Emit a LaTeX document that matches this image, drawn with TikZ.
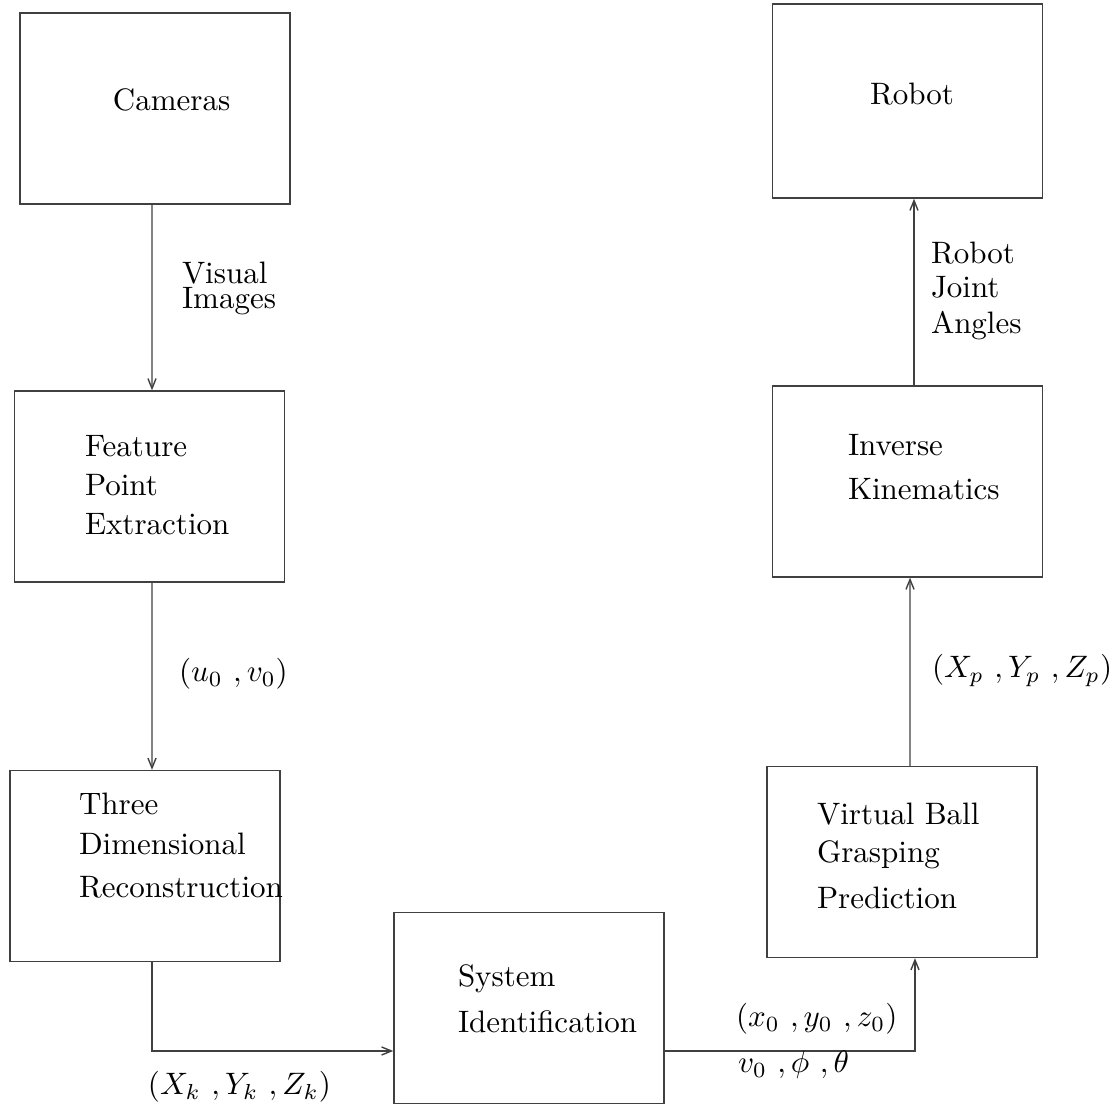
\documentclass[tikz,border=0pt]{standalone}
\usetikzlibrary{arrows.meta}
\begin{document}
\begin{tikzpicture}[x=0.3226pt,y=-0.3226pt,
  blk/.style={draw=black!75,line width=0.45pt,rectangle,minimum width=87.1pt,minimum height=61.6pt,inner sep=0pt},
  txt/.style={anchor=base west,inner sep=0pt,outer sep=0pt,font=\fontsize{10}{12}\selectfont},
  arr/.style={draw=black!75,line width=0.45pt,-{Straight Barb[length=3.2pt,width=2.6pt]}}]
\useasboundingbox (0,0) rectangle (1115,1106);
% boxes
\node[blk] (cam)   at (155,108.5) {};
\node[blk] (feat)  at (149.5,486.5) {};
\node[blk] (three) at (145,866) {};
\node[blk] (sys)   at (529,1008) {};
\node[blk] (virt)  at (902,862) {};
\node[blk] (inv)   at (907.5,481.5) {};
\node[blk,minimum height=62.6pt] (robot) at (907.5,101) {};
% box texts
\node[txt] (camT) at (113,111) {Cameras};
\node[txt] (featT) at (85,457) {\def\arraystretch{1.048}\begin{tabular}[t]{@{}l@{}}Feature\\Point\\Extraction\end{tabular}};
\node[txt] (threeT) at (79,815) {\begin{tabular}[t]{@{}l@{}}Three\\[0.9pt]Dimensional\\[1.87pt]Reconstruction\end{tabular}};
\node[txt] (sysT) at (458,987) {\def\arraystretch{1.21}\begin{tabular}[t]{@{}l@{}}System\\Identification\end{tabular}};
\node[txt] (virtT) at (817,825) {\begin{tabular}[t]{@{}l@{}}Virtual Ball\\Grasping\\[2.84pt]Prediction\end{tabular}};
\node[txt] (invT) at (848,456) {\def\arraystretch{1.183}\begin{tabular}[t]{@{}l@{}}Inverse\\Kinematics\end{tabular}};
\node[txt] (robotT) at (870,105) {Robot};
% connectors
\draw[arr] ([xshift=-0.97pt]cam.south) -- ([xshift=0.81pt]feat.north);
\draw[arr] ([xshift=0.81pt]feat.south) -- ([xshift=2.26pt]three.north);
\draw[arr] ([xshift=2.26pt]three.south) |- ([yshift=-13.87pt]sys.west);
\draw[arr] ([yshift=-13.87pt]sys.east) -| ([xshift=4.19pt]virt.south);
\draw[arr] ([xshift=2.58pt]virt.north) -- ([xshift=0.81pt]inv.south);
\draw[arr] ([xshift=2.1pt]inv.north) -- ([xshift=2.1pt]robot.south);
% connector labels
\node[txt] (visL) at (182,284) {\begin{tabular}[t]{@{}l@{}}Visual\\[-4.1pt]Images\end{tabular}};
\node[txt] (uvL) at (179,682) {$(u_0\ ,v_0)$};
\node[txt] (XkL) at (148,1095) {$(X_k\ ,Y_k\ ,Z_k)$};
\node[txt] (xyzL) at (736,1027) {$(x_0\ ,y_0\ ,z_0)$};
\node[txt] (vL) at (738,1073) {$v_0\ ,\phi\ ,\theta$};
\node[txt] (XpL) at (932,678) {$(X_p\ ,Y_p\ ,Z_p)$};
\node[txt] (rjaL) at (931,264) {\def\arraystretch{0.888}\begin{tabular}[t]{@{}l@{}}Robot\\Joint\\[0.97pt]Angles\end{tabular}};
\end{tikzpicture}
\end{document}
